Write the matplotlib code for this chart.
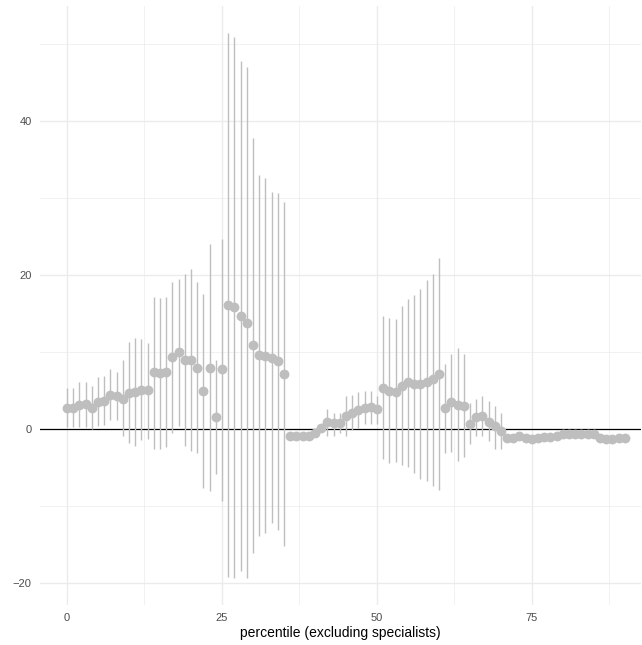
import numpy as np
import matplotlib
matplotlib.use("Agg")
import matplotlib.pyplot as plt

# estimates by percentile
percentile = list(range(0, 91))
estimate = [2.7, 2.7, 3.1, 3.2, 2.7, 3.5, 3.6, 4.4, 4.3, 3.9,
            4.6, 4.8, 5.0, 5.0, 7.3, 7.2, 7.3, 9.3, 9.9, 8.9,
            8.9, 7.9, 4.9, 7.9, 1.5, 7.7, 16.1, 15.8, 14.6, 13.7,
            10.9, 9.6, 9.4, 9.2, 8.8, 7.1, -0.9, -1.0, -1.0, -0.95,
            -0.6, 0.1, 0.9, 0.8, 0.8, 1.6, 2.0, 2.4, 2.7, 2.8,
            2.5, 5.3, 4.9, 4.8, 5.5, 6.1, 5.8, 5.8, 6.1, 6.4,
            7.1, 2.7, 3.5, 3.1, 2.9, 0.6, 1.5, 1.6, 0.9, 0.3,
            -0.3, -1.2, -1.2, -0.95, -1.2, -1.3, -1.2, -1.1, -1.1, -1.0,
            -0.7, -0.7, -0.7, -0.7, -0.7, -0.7, -1.2, -1.3, -1.3, -1.2,
            -1.2]
nan = float("nan")
lower = [0.2, 0.2, 0.2, 0.2, 0.0, 0.4, 0.5, 1.1, 1.1, -1.0,
         -1.9, -2.2, -1.5, -1.3, -2.6, -2.6, -2.4, -0.5, 0.3, -2.3,
         -2.9, -3.2, -7.7, -8.1, -5.9, -9.4, -19.2, -19.4, -18.5, -19.4,
         -16.1, -13.9, -13.6, -12.3, -13.1, -15.3, nan, nan, nan, nan,
         nan, nan, -1.0, -1.0, -0.6, -1.0, -0.2, 0.1, 0.6, 0.6,
         0.6, -4.0, -4.5, -4.3, -4.7, -5.0, -5.8, -6.5, -6.8, -7.4,
         -7.9, -3.1, -3.0, -4.2, -3.7, -2.0, -1.0, -1.0, -1.6, -2.7,
         -2.6] + [nan] * 20
upper = [5.3, 5.3, 6.1, 6.1, 5.5, 6.7, 6.8, 7.7, 7.4, 8.9,
         11.3, 11.8, 11.6, 11.1, 17.1, 17.0, 17.1, 19.0, 19.4, 20.1,
         20.8, 19.0, 17.5, 24.0, 8.9, 24.7, 51.4, 50.9, 47.7, 47.0,
         37.8, 33.0, 32.5, 30.8, 30.6, 29.4, nan, nan, nan, nan,
         nan, nan, 2.6, 2.1, 2.1, 4.3, 4.4, 4.8, 4.9, 4.9,
         4.3, 14.7, 14.4, 14.2, 15.9, 16.8, 17.4, 18.2, 19.3, 20.1,
         22.2, 8.4, 9.7, 10.5, 9.7, 3.3, 3.9, 4.2, 3.6, 2.9,
         2.1] + [nan] * 20

x = np.array(percentile)
lo = np.array(lower)
hi = np.array(upper)
has_ci = ~np.isnan(lo)

fig = plt.figure(figsize=(6.42, 6.45), dpi=100)
ax = fig.add_axes([40 / 642, 40 / 645, 601 / 642, 599 / 645])

# grid like theme_minimal
for v in [12.5, 37.5, 62.5, 87.5]:
    ax.axvline(v, color="#EBEBEB", lw=0.5, zorder=0)
for v in [-10, 10, 30, 50]:
    ax.axhline(v, color="#EBEBEB", lw=0.5, zorder=0)
for v in [0, 25, 50, 75]:
    ax.axvline(v, color="#EBEBEB", lw=1.0, zorder=0)
for v in [-20, 20, 40]:
    ax.axhline(v, color="#EBEBEB", lw=1.0, zorder=0)

ax.axhline(0, color="black", lw=0.9, zorder=1)
ax.vlines(x[has_ci], lo[has_ci], hi[has_ci], color="#BEBEBE", lw=1.0, zorder=2)
ax.scatter(x, estimate, s=50, color="#BEBEBE", linewidths=0, zorder=3)

ax.set_xlim(-4.35, 92.6)
ax.set_ylim(-22.9, 54.9)
ax.set_xticks([0, 25, 50, 75])
ax.set_yticks([-20, 0, 20, 40])
ax.set_yticklabels(["\u221220", "0", "20", "40"])
ax.tick_params(length=0, labelsize=8, labelcolor="#4D4D4D", pad=6)
for lab in ax.get_xticklabels() + ax.get_yticklabels():
    lab.set_fontfamily("Liberation Sans")
for s in ax.spines.values():
    s.set_visible(False)
ax.set_xlabel("percentile (excluding specialists)", fontsize=10,
              fontfamily="Liberation Sans", labelpad=2)

fig.savefig("out.png", dpi=100)
